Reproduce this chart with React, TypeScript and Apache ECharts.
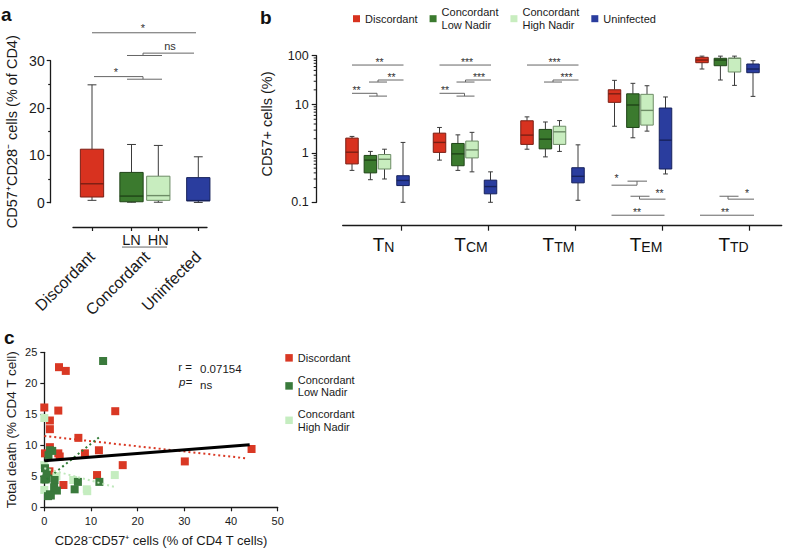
import React, { useEffect, useRef } from "react";
import * as echarts from "echarts";

const FONT = "'Liberation Sans', Arial, Helvetica, sans-serif";

// ---------------- Panel a data: [min, Q1, median, Q3, max] ----------------
const aCategoryLabels = ["Discordant", "Concordant", "Uninfected"];
const aSubLabels = ["LN", "HN"];
const aDiscordant = [0.5, 1.2, 4.0, 11.3, 24.9];
const aLowNadir = [0.1, 0.2, 1.4, 6.4, 12.3];
const aHighNadir = [0.1, 0.5, 1.5, 5.6, 12.1];
const aUninfected = [0.05, 0.4, 0.45, 5.3, 9.7];

// ---------------- Panel b data: per subset [min, Q1, median, Q3, max] ----------------
const bSubsets = ["N", "CM", "TM", "EM", "TD"];
const bNames = ["Discordant", "Concordant\nLow Nadir", "Concordant\nHigh Nadir", "Uninfected"];
const bDiscordant = [
  [0.45, 0.61, 1.06, 2.06, 2.23],
  [0.73, 1.05, 1.68, 2.6, 3.4],
  [1.22, 1.53, 2.37, 4.66, 5.6],
  [3.6, 11.1, 16.6, 20.1, 31.3],
  [53.4, 71.9, 81.5, 92.7, 98],
];
const bLowNadir = [
  [0.29, 0.4, 0.73, 0.91, 1.1],
  [0.45, 0.56, 0.98, 1.6, 2.4],
  [0.85, 1.24, 1.96, 3.1, 4.4],
  [2.09, 3.4, 9.8, 16.6, 27.2],
  [31.8, 62.4, 81.5, 88.5, 98],
];
const bHighNadir = [
  [0.3, 0.48, 0.76, 0.95, 1.22],
  [0.42, 0.81, 1.18, 1.79, 2.7],
  [1.1, 1.53, 2.77, 3.6, 4.7],
  [2.86, 3.8, 7.6, 16.2, 24.3],
  [24.7, 46.4, 88.5, 88.5, 98],
];
const bUninfected = [
  [0.1, 0.22, 0.28, 0.35, 1.68],
  [0.1, 0.149, 0.21, 0.284, 0.42],
  [0.11, 0.25, 0.34, 0.51, 1.5],
  [0.38, 0.48, 1.87, 8.5, 14.3],
  [14.7, 44.9, 53.4, 67.6, 79],
];
const bMinorTicks = [0.2, 0.3, 0.4, 0.5, 0.6, 0.7, 0.8, 0.9, 2, 3, 4, 5, 6, 7, 8, 9, 20, 30, 40, 50, 60, 70, 80, 90];

// ---------------- Panel c data ----------------
const cNames = ["Discordant", "Concordant\nLow Nadir", "Concordant\nHigh Nadir"];
const cDiscordant = [
  [0, 16.1], [3.15, 22.6], [4.6, 22.0], [3.0, 15.6], [15.2, 15.5], [1.2, 14.0], [1.2, 12.6],
  [7.3, 11.2], [1.2, 9.7], [11.7, 9.2], [8.7, 8.7], [3.0, 8.7], [3.3, 8.2], [0.15, 8.7],
  [16.8, 6.8], [11.3, 5.2], [1.1, 5.8], [4.1, 3.6], [30.1, 7.4], [44.4, 9.4],
];
const cLowNadir = [
  [12.6, 23.6], [1.7, 9.1], [1.2, 9.2], [0.9, 8.4], [0.15, 6.3], [0.5, 5.7], [0.3, 4.5],
  [0.0, 4.5], [0.5, 4.7], [2.2, 4.4], [7.2, 4.1], [11.8, 4.1], [6.5, 2.9], [2.1, 3.2],
  [2.7, 2.7], [1.2, 2.1], [0.8, 1.8], [1.4, 1.9],
];
const cHighNadir = [
  [0, 14.4], [0, 6.8], [0, 2.8], [2.6, 5.0], [6.2, 4.4], [9.1, 2.9], [9.2, 2.6], [15.1, 5.2],
];
const cFitAll = [[0, 7.5], [44, 10.1]];
const cFitDiscordant = [[0, 11.5], [43.3, 7.9]];
const cFitLowNadir = [[0.5, 4.5], [11.9, 11.4]];
const cFitHighNadir = [[0, 6.3], [15, 3.3]];
const cR = "0.07154";
const cP = "ns";

// ---------------- Colours ----------------
const RED = "#d8321f";
const DKG = "#3b7a2e";
const LTG = "#c8edbf";
const BLUE = "#2a3d9e";
const RED_B = "#7a1f14";
const DKG_B = "#1f4417";
const LTG_B = "#6d8c66";
const BLUE_B = "#17225c";
const WHISKER = "#3a3a3a";
const BRACKET = "#666666";
const MARK = "#333333";
const AXIS = "#1a1a1a";
const TXT = "#1a1a1a";
const C_RED = "#d93824";
const C_DKG = "#3a7a3c";
const C_LTG = "#c5edc0";

// ---------------- Layout ----------------
const A_LEFT = 50.7, A_TOP = 60.7, A_H = 142, A_PX = 40, A_W = 168;
const A_POS = [1.0325, 2.02, 2.69, 3.69];
const A_LABEL_POS = [A_POS[0], (A_POS[1] + A_POS[2]) / 2 + 0.05, A_POS[3]];
const A_SUB_POS = [A_POS[1], A_POS[2]];
const A_AX_L = 73, A_AX_R = 207, A_AX_Y = 227;

const B_LEFT = 316.7, B_TOP = 55.7, B_BOTTOM = 202.3, B_RIGHT = 781.7, B_PX = 87.5;
const B_RED0 = (352 - B_LEFT) / B_PX;
const B_OFFS = [0, 18.4, 32.5, 51];
const B_TICK0 = (401.7 - B_LEFT) / B_PX, B_TICK_STEP = 86.9 / B_PX;
const B_LABEL_REL = 31.5;
const B_AX_L = 342.7, B_AX_Y = 225.7;
const bx = (g: number, rel: number) => B_RED0 + g + rel / B_PX;

const C_LEFT = 44.3, C_TOP = 352.3, C_W = 233.4, C_H = 155;

// significance annotations, panel a (data units)
const aSegs = [
  [1.0325, 35.9, 3.6325, 35.9],
  [1.9075, 31.1, 2.7825, 31.1],
  [2.3075, 31.1, 2.3075, 31.6],
  [2.3075, 31.6, 3.5825, 31.6],
  [1.0825, 26.64, 2.3075, 26.64],
  [2.3075, 26.64, 2.3075, 26.09],
  [1.9075, 26.09, 2.7825, 26.09],
  [1.7825, -9.37, 2.9075, -9.37],
];
const aMarks: [number, number, string, number][] = [
  [2.3075, 35.9, "*", 5],
  [2.9825, 31.6, "ns", 7.5],
  [1.6325, 26.64, "*", 5],
];

// significance annotations, panel b (levels on log axis, x relative to red box in px)
const LV: Record<string, number> = {
  top: 64.4, midUp: 31.8, midLo: 28.9, lowUp: 17.0, lowLo: 14.9,
  b0: 0.271, b1: 0.224, b2: 0.133, b3: 0.116, b4: 0.0544,
};
type Seg = [number, string, number, string];
type Mark = [number, string, string];
const topSegs: Seg[] = [
  [0, "top", 51.5, "top"],
  [17, "midLo", 35, "midLo"], [26, "midLo", 26, "midUp"], [26, "midUp", 51.5, "midUp"],
];
const lowSegs: Seg[] = [
  [0, "lowUp", 25, "lowUp"], [25, "lowUp", 25, "lowLo"], [17, "lowLo", 35, "lowLo"],
];
const bSpecs: { g: number; segs: Seg[]; marks: Mark[] }[] = [
  { g: 0, segs: [...topSegs, ...lowSegs], marks: [[27.5, "top", "**"], [39.5, "midUp", "**"], [4.5, "lowUp", "**"]] },
  { g: 1, segs: [...topSegs, ...lowSegs], marks: [[27.5, "top", "***"], [39.5, "midUp", "***"], [5.5, "lowUp", "**"]] },
  { g: 2, segs: [...topSegs], marks: [[27.5, "top", "***"], [39.5, "midUp", "***"]] },
  {
    g: 3,
    segs: [
      [-3, "b1", 22.5, "b1"], [22.5, "b1", 22.5, "b0"], [13, "b0", 32.5, "b0"],
      [16, "b2", 35, "b2"], [25, "b2", 25, "b3"], [25, "b3", 51, "b3"],
      [-3, "b4", 50, "b4"],
    ],
    marks: [[2, "b0", "*"], [45, "b2", "**"], [22.5, "b4", "**"]],
  },
  {
    g: 4,
    segs: [
      [17.5, "b2", 36.5, "b2"], [26, "b2", 26, "b3"], [26, "b3", 52, "b3"],
      [-2, "b4", 52, "b4"],
    ],
    marks: [[45, "b2", "*"], [23, "b4", "**"]],
  },
];

function nearestIndex(arr: number[], v: number) {
  let best = 0;
  for (let i = 1; i < arr.length; i++) if (Math.abs(arr[i] - v) < Math.abs(arr[best] - v)) best = i;
  return best;
}

function boxSeries(name: string, xi: number, yi: number, data: number[][], w: number, fill: string, stroke: string) {
  return {
    type: "custom",
    name,
    xAxisIndex: xi,
    yAxisIndex: yi,
    silent: true,
    clip: false,
    itemStyle: { color: fill },
    data,
    renderItem: (_p: any, api: any) => {
      const x = api.value(0);
      const pMin = api.coord([x, api.value(1)]);
      const pQ1 = api.coord([x, api.value(2)]);
      const pMd = api.coord([x, api.value(3)]);
      const pQ3 = api.coord([x, api.value(4)]);
      const pMax = api.coord([x, api.value(5)]);
      const cx = pMd[0];
      const hw = w / 2;
      const cap = w * 0.19;
      const ws = { stroke: WHISKER, lineWidth: 1 };
      return {
        type: "group",
        children: [
          { type: "line", shape: { x1: cx, y1: pMax[1], x2: cx, y2: pQ3[1] }, style: ws },
          { type: "line", shape: { x1: cx, y1: pQ1[1], x2: cx, y2: pMin[1] }, style: ws },
          { type: "line", shape: { x1: cx - cap, y1: pMax[1], x2: cx + cap, y2: pMax[1] }, style: ws },
          { type: "line", shape: { x1: cx - cap, y1: pMin[1], x2: cx + cap, y2: pMin[1] }, style: ws },
          {
            type: "rect",
            shape: { x: cx - hw, y: pQ3[1], width: w, height: Math.max(pQ1[1] - pQ3[1], 1) },
            style: { fill, stroke, lineWidth: 1 },
          },
          { type: "line", shape: { x1: cx - hw, y1: pMd[1], x2: cx + hw, y2: pMd[1] }, style: { stroke, lineWidth: 1.4 } },
        ],
      };
    },
  };
}

function segSeries(xi: number, yi: number, segs: number[][]) {
  return {
    type: "custom",
    xAxisIndex: xi,
    yAxisIndex: yi,
    silent: true,
    clip: false,
    itemStyle: { color: BRACKET },
    data: segs,
    renderItem: (_p: any, api: any) => {
      const p1 = api.coord([api.value(0), api.value(1)]);
      const p2 = api.coord([api.value(2), api.value(3)]);
      return {
        type: "line",
        shape: { x1: p1[0], y1: p1[1], x2: p2[0], y2: p2[1] },
        style: { stroke: BRACKET, lineWidth: 1 },
      };
    },
  };
}

function markSeries(xi: number, yi: number, marks: [number, number, string, number][], fontSize: number) {
  return {
    type: "custom",
    xAxisIndex: xi,
    yAxisIndex: yi,
    silent: true,
    clip: false,
    itemStyle: { color: MARK },
    data: marks.map((m) => [m[0], m[1]]),
    renderItem: (params: any, api: any) => {
      const m = marks[params.dataIndex];
      const p = api.coord([api.value(0), api.value(1)]);
      return {
        type: "text",
        x: p[0],
        y: p[1] - m[3],
        style: { text: m[2], fontSize, fontFamily: FONT, fill: MARK, textFill: MARK, align: "center", verticalAlign: "middle" },
      };
    },
  };
}

// minor ticks of the log axis, drawn at the axis line through the axis scale
function logMinorTickSeries(xi: number, yi: number, values: number[]) {
  return {
    type: "custom",
    xAxisIndex: xi,
    yAxisIndex: yi,
    silent: true,
    clip: false,
    itemStyle: { color: AXIS },
    data: values.map((v) => [0, v]),
    renderItem: (_p: any, api: any) => {
      const p = api.coord([0, api.value(1)]);
      return {
        type: "line",
        shape: { x1: p[0] - 3, y1: p[1], x2: p[0], y2: p[1] },
        style: { stroke: AXIS, lineWidth: 1 },
      };
    },
  };
}

function buildOption() {
  const axisLine = { show: true, lineStyle: { color: AXIS, width: 1.3 } };
  const tickStyle = { color: AXIS, width: 1.2 };

  const bData = [bDiscordant, bLowNadir, bHighNadir, bUninfected];
  const bFill = [RED, DKG, LTG, BLUE];
  const bStroke = [RED_B, DKG_B, LTG_B, BLUE_B];
  const bTicks = bSubsets.map((_, g) => B_TICK0 + g * B_TICK_STEP);
  const bLabels = bSubsets.map((_, g) => bx(g, B_LABEL_REL));

  const bSegs: number[][] = [];
  const bMarks: [number, number, string, number][] = [];
  bSpecs.forEach((s) => {
    s.segs.forEach((sg) => bSegs.push([bx(s.g, sg[0]), LV[sg[1]], bx(s.g, sg[2]), LV[sg[3]]]));
    s.marks.forEach((m) => bMarks.push([bx(s.g, m[0]), LV[m[1]], m[2], 3.5]));
  });

  const aAxisMin = (A_AX_L - A_LEFT) / A_PX;
  const aAxisMax = (A_AX_R - A_LEFT) / A_PX;
  const bAxisMin = (B_AX_L - B_LEFT) / B_PX;
  const bMax = (B_RIGHT - B_LEFT) / B_PX;

  return {
    animation: false,
    textStyle: { fontFamily: FONT },
    grid: [
      { left: A_LEFT, top: A_TOP, width: A_W, height: A_H },
      { left: A_AX_L, top: A_TOP + A_H, width: A_AX_R - A_AX_L, height: A_AX_Y - (A_TOP + A_H) },
      { left: B_LEFT, top: B_TOP, width: B_RIGHT - B_LEFT, height: B_BOTTOM - B_TOP },
      { left: B_AX_L, top: B_BOTTOM, width: B_RIGHT - B_AX_L, height: B_AX_Y - B_BOTTOM },
      { left: C_LEFT, top: C_TOP, width: C_W, height: C_H },
    ],
    legend: [
      {
        left: 353,
        top: 6,
        orient: "horizontal",
        padding: 0,
        itemWidth: 7,
        itemHeight: 7,
        itemGap: 12,
        icon: "rect",
        selectedMode: false,
        textStyle: { fontSize: 11, lineHeight: 12.7, color: TXT, fontFamily: FONT },
        data: bNames.map((n, i) => ({ name: n, itemStyle: { color: bFill[i], borderWidth: 0 } })),
      },
      {
        left: 285.3,
        top: 351.5,
        orient: "vertical",
        padding: 0,
        itemWidth: 7.5,
        itemHeight: 7.5,
        itemGap: 9,
        icon: "rect",
        selectedMode: false,
        textStyle: { fontSize: 11, lineHeight: 12.7, color: TXT, fontFamily: FONT },
        data: cNames.map((n, i) => ({ name: n, itemStyle: { color: [C_RED, C_DKG, C_LTG][i], borderWidth: 0 } })),
      },
    ],
    xAxis: [
      { gridIndex: 0, type: "value", min: 0, max: A_W / A_PX, show: false },
      {
        gridIndex: 1,
        type: "value",
        min: aAxisMin,
        max: aAxisMax,
        position: "bottom",
        axisLine,
        axisTick: { show: true, customValues: A_POS, length: 4, lineStyle: tickStyle },
        axisLabel: {
          show: true,
          customValues: A_LABEL_POS,
          rotate: 45,
          margin: 27,
          fontSize: 16,
          color: TXT,
          fontFamily: FONT,
          formatter: (v: number) => aCategoryLabels[nearestIndex(A_LABEL_POS, v)],
        },
        splitLine: { show: false },
      },
      {
        gridIndex: 1,
        type: "value",
        min: aAxisMin,
        max: aAxisMax,
        position: "bottom",
        axisLine: { show: false },
        axisTick: { show: false },
        axisLabel: {
          show: true,
          customValues: A_SUB_POS,
          margin: 5,
          fontSize: 14.5,
          color: TXT,
          fontFamily: FONT,
          formatter: (v: number) => aSubLabels[nearestIndex(A_SUB_POS, v)],
        },
        splitLine: { show: false },
      },
      { gridIndex: 2, type: "value", min: 0, max: bMax, show: false },
      {
        gridIndex: 3,
        type: "value",
        min: bAxisMin,
        max: bMax,
        position: "bottom",
        axisLine,
        axisTick: { show: true, customValues: bTicks, length: 5, lineStyle: tickStyle },
        axisLabel: {
          show: true,
          customValues: bLabels,
          margin: 8,
          formatter: (v: number) => `{t|T}{s|${bSubsets[nearestIndex(bLabels, v)]}}`,
          rich: {
            t: { fontSize: 19, lineHeight: 20, fontFamily: FONT, color: "#111", verticalAlign: "bottom" },
            s: { fontSize: 14, lineHeight: 16, fontFamily: FONT, color: "#111", verticalAlign: "bottom" },
          },
        },
        splitLine: { show: false },
      },
      {
        gridIndex: 4,
        type: "value",
        min: 0,
        max: 50,
        interval: 10,
        axisLine,
        axisTick: { show: true, length: 4, lineStyle: tickStyle },
        axisLabel: { fontSize: 11, margin: 8, color: TXT, fontFamily: FONT },
        splitLine: { show: false },
        name: "CD28\u207BCD57\u207A cells (% of CD4 T cells)",
        nameLocation: "middle",
        nameGap: 27,
        nameTextStyle: { fontSize: 13, color: TXT, fontFamily: FONT },
      },
    ],
    yAxis: [
      {
        gridIndex: 0,
        type: "value",
        min: 0,
        max: 30,
        interval: 10,
        axisLine,
        axisTick: { show: true, length: 4, lineStyle: tickStyle },
        minorTick: { show: true, splitNumber: 2, length: 2.5, lineStyle: tickStyle },
        axisLabel: { fontSize: 14, margin: 6, color: TXT, fontFamily: FONT },
        splitLine: { show: false },
        name: "CD57\u207ACD28\u207B cells (% of CD4)",
        nameLocation: "middle",
        nameGap: 31,
        nameTextStyle: { fontSize: 14.5, color: TXT, fontFamily: FONT },
      },
      { gridIndex: 1, type: "value", min: 0, max: 1, show: false },
      {
        gridIndex: 2,
        type: "log",
        logBase: 10,
        min: 0.1,
        max: 100,
        axisLine,
        axisTick: { show: true, length: 5, lineStyle: tickStyle },
        minorTick: { show: false },
        axisLabel: { fontSize: 12.5, margin: 8, color: TXT, fontFamily: FONT, formatter: (v: number) => String(v) },
        splitLine: { show: false },
        name: "CD57+ cells (%)",
        nameLocation: "middle",
        nameGap: 42,
        nameTextStyle: { fontSize: 14.5, color: TXT, fontFamily: FONT, padding: [0, 0, 0, 10] },
      },
      { gridIndex: 3, type: "value", min: 0, max: 1, show: false },
      {
        gridIndex: 4,
        type: "value",
        min: 0,
        max: 25,
        interval: 5,
        axisLine,
        axisTick: { show: true, length: 4, lineStyle: tickStyle },
        axisLabel: { fontSize: 11, margin: 7, color: TXT, fontFamily: FONT },
        splitLine: { show: false },
        name: "Total death (% CD4 T cell)",
        nameLocation: "middle",
        nameGap: 26,
        nameTextStyle: { fontSize: 13.5, color: TXT, fontFamily: FONT },
      },
    ],
    graphic: [
      { type: "text", x: 1, y: 14, style: { text: "a", fontSize: 19, fontWeight: "bold", fontFamily: FONT, fill: "#111", verticalAlign: "middle" } },
      { type: "text", x: 260, y: 17, style: { text: "b", fontSize: 19, fontWeight: "bold", fontFamily: FONT, fill: "#111", verticalAlign: "middle" } },
      { type: "text", x: 4, y: 337, style: { text: "c", fontSize: 19, fontWeight: "bold", fontFamily: FONT, fill: "#111", verticalAlign: "middle" } },
      { type: "text", x: 178.3, y: 366.7, style: { text: "r =", fontSize: 11.5, fontFamily: FONT, fill: TXT, verticalAlign: "middle" } },
      { type: "text", x: 200, y: 369, style: { text: cR, fontSize: 11.5, fontFamily: FONT, fill: TXT, verticalAlign: "middle" } },
      { type: "text", x: 179, y: 382.3, style: { text: "p=", fontSize: 11.5, fontStyle: "italic", fontFamily: FONT, fill: TXT, verticalAlign: "middle" } },
      { type: "text", x: 200, y: 385, style: { text: cP, fontSize: 11.5, fontFamily: FONT, fill: TXT, verticalAlign: "middle" } },
    ],
    series: [
      boxSeries("a-Discordant", 0, 0, [[A_POS[0], ...aDiscordant]], 23.3, RED, RED_B),
      boxSeries("a-LN", 0, 0, [[A_POS[1], ...aLowNadir]], 23.3, DKG, DKG_B),
      boxSeries("a-HN", 0, 0, [[A_POS[2], ...aHighNadir]], 23.3, LTG, LTG_B),
      boxSeries("a-Uninfected", 0, 0, [[A_POS[3], ...aUninfected]], 23.3, BLUE, BLUE_B),
      segSeries(0, 0, aSegs),
      markSeries(0, 0, aMarks, 11),
      ...bData.map((d, s) =>
        boxSeries(bNames[s], 3, 2, d.map((v, g) => [bx(g, B_OFFS[s]), ...v]), 12.5, bFill[s], bStroke[s])
      ),
      segSeries(3, 2, bSegs),
      markSeries(3, 2, bMarks, 10.5),
      logMinorTickSeries(3, 2, bMinorTicks),
      { type: "scatter", name: cNames[0], xAxisIndex: 5, yAxisIndex: 4, data: cDiscordant, symbol: "rect", symbolSize: 8, itemStyle: { color: C_RED, opacity: 1 }, silent: true },
      { type: "scatter", name: cNames[2], xAxisIndex: 5, yAxisIndex: 4, data: cHighNadir, symbol: "rect", symbolSize: 8, itemStyle: { color: C_LTG, opacity: 1 }, silent: true },
      { type: "scatter", name: cNames[1], xAxisIndex: 5, yAxisIndex: 4, data: cLowNadir, symbol: "rect", symbolSize: 8, itemStyle: { color: C_DKG, opacity: 1 }, silent: true },
      { type: "line", xAxisIndex: 5, yAxisIndex: 4, data: cFitDiscordant, symbol: "none", silent: true, lineStyle: { color: C_RED, width: 2, type: [2, 3] } },
      { type: "line", xAxisIndex: 5, yAxisIndex: 4, data: cFitLowNadir, symbol: "none", silent: true, lineStyle: { color: "#2f7a34", width: 2, type: [2, 3] } },
      { type: "line", xAxisIndex: 5, yAxisIndex: 4, data: cFitHighNadir, symbol: "none", silent: true, lineStyle: { color: "#bfe8bb", width: 2, type: [2, 3] } },
      { type: "line", xAxisIndex: 5, yAxisIndex: 4, data: cFitAll, symbol: "none", silent: true, lineStyle: { color: "#000", width: 3 } },
    ],
  };
}

export default function App() {
  const ref = useRef<HTMLDivElement>(null);
  useEffect(() => {
    if (!ref.current) return;
    const chart = echarts.init(ref.current, undefined, { renderer: "svg" });
    chart.setOption(buildOption() as any);
    return () => chart.dispose();
  }, []);
  return (
    <div
      ref={ref}
      style={{ position: "absolute", left: 0, top: 0, width: 785, height: 550, background: "#fff" }}
    />
  );
}
